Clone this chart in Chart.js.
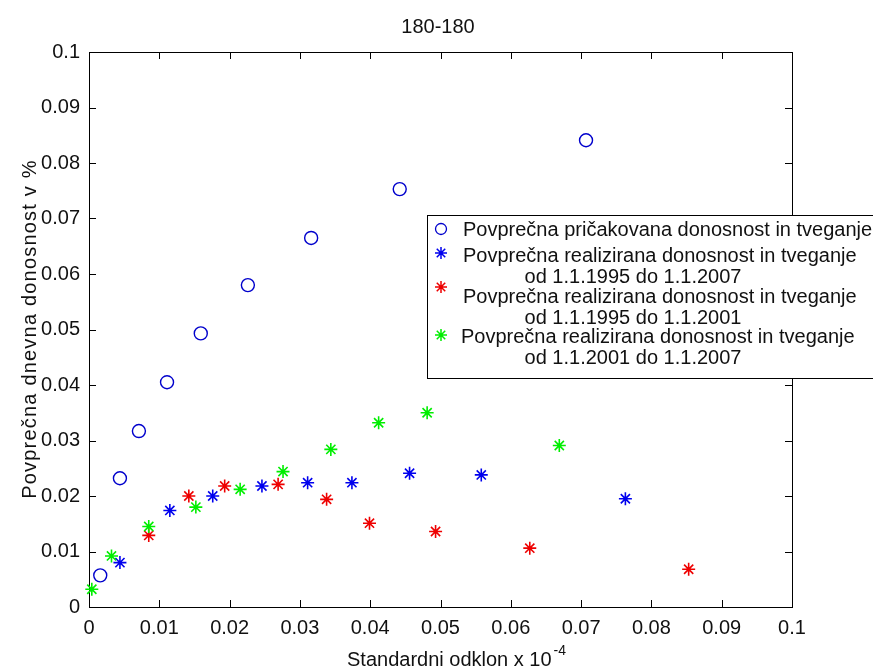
<!DOCTYPE html>
<html>
<head>
<meta charset="utf-8">
<script src="https://cdn.jsdelivr.net/npm/chart.js"></script>
<style>
  html, body { margin: 0; padding: 0; background: #fff; }
  #wrap { width: 873px; height: 669px; position: relative; }
</style>
</head>
<body>
<div id="wrap"><canvas id="c" width="873" height="669"></canvas></div>
<script>
// --- DATA ---
const titleText = '180-180';
const xTitle = 'Standardni odklon x 10';
const xTitleExp = '-4';
const yTitle = 'Povprečna dnevna donosnost v %';

const seriesNames = [
    'Povprečna pričakovana donosnost in tveganje',
    'Povprečna realizirana donosnost in tveganje',
    'Povprečna realizirana donosnost in tveganje',
    'Povprečna realizirana donosnost in tveganje',
];
const seriesPeriods = ['', 'od 1.1.1995 do 1.1.2007', 'od 1.1.1995 do 1.1.2001', 'od 1.1.2001 do 1.1.2007'];

// expected return vs risk (circles)
const expectedX = [0.0016, 0.0044, 0.0071, 0.0111, 0.0159, 0.0226, 0.0316, 0.0442, 0.0707];
const expectedY = [0.0057, 0.0232, 0.0317, 0.0405, 0.0493, 0.0580, 0.0665, 0.0753, 0.0841];

// realized 1995-2007 (blue stars)
const real9507X = [0.0044, 0.0115, 0.0176, 0.0246, 0.0311, 0.0374, 0.0456, 0.0558, 0.0763];
const real9507Y = [0.0080, 0.0174, 0.0200, 0.0218, 0.0224, 0.0224, 0.0241, 0.0238, 0.0195];

// realized 1995-2001 (red stars)
const real9501X = [0.0085, 0.0142, 0.0193, 0.0269, 0.0338, 0.0399, 0.0493, 0.0627, 0.0853];
const real9501Y = [0.0129, 0.0200, 0.0218, 0.0221, 0.0194, 0.0151, 0.0136, 0.0106, 0.0068];

// realized 2001-2007 (green stars)
const real0107X = [0.0004, 0.0032, 0.0085, 0.0152, 0.0215, 0.0276, 0.0344, 0.0412, 0.0481, 0.0669];
const real0107Y = [0.0032, 0.0092, 0.0145, 0.0180, 0.0212, 0.0244, 0.0284, 0.0332, 0.0350, 0.0291];

const axisMin = 0, axisMax = 0.1, axisStep = 0.01;

// --- HELPERS ---
const FONT = "'Liberation Sans', Arial, sans-serif";
const toPoints = (xs, ys) => xs.map((x, i) => ({ x: x, y: ys[i] }));
const fmt = v => String(+v.toFixed(2));

function drawStar(ctx, x, y, r, color) {
    ctx.save();
    ctx.strokeStyle = color;
    ctx.lineWidth = 1.5;
    ctx.beginPath();
    ctx.moveTo(x - r, y); ctx.lineTo(x + r, y);
    ctx.moveTo(x, y - r); ctx.lineTo(x, y + r);
    const d = r * 0.707;
    ctx.moveTo(x - d, y - d); ctx.lineTo(x + d, y + d);
    ctx.moveTo(x - d, y + d); ctx.lineTo(x + d, y - d);
    ctx.stroke();
    ctx.restore();
}

// box, inward ticks on all four sides, titles and legend
const matlabFrame = {
    id: 'matlabFrame',
    beforeDatasetsDraw(chart) {
        const { ctx, chartArea: a, scales } = chart;
        ctx.save();
        ctx.strokeStyle = '#000';
        ctx.lineWidth = 1;
        ctx.strokeRect(Math.round(a.left) + 0.5, Math.round(a.top) + 0.5,
            Math.round(a.right - a.left), Math.round(a.bottom - a.top));
        const tl = 7;
        ctx.beginPath();
        scales.x.ticks.forEach(t => {
            const px = Math.round(scales.x.getPixelForValue(t.value)) + 0.5;
            ctx.moveTo(px, a.bottom); ctx.lineTo(px, a.bottom - tl);
            ctx.moveTo(px, a.top); ctx.lineTo(px, a.top + tl);
        });
        scales.y.ticks.forEach(t => {
            const py = Math.round(scales.y.getPixelForValue(t.value)) + 0.5;
            ctx.moveTo(a.left, py); ctx.lineTo(a.left + tl, py);
            ctx.moveTo(a.right, py); ctx.lineTo(a.right - tl, py);
        });
        ctx.stroke();
        ctx.restore();
    },
    afterDraw(chart) {
        const { ctx, chartArea: a } = chart;
        ctx.save();
        ctx.fillStyle = '#111';
        ctx.font = '20px ' + FONT;

        // title
        ctx.textAlign = 'center';
        ctx.textBaseline = 'middle';
        ctx.fillText(titleText, 438, 27);

        // x title with exponent
        ctx.textAlign = 'left';
        ctx.textBaseline = 'alphabetic';
        ctx.fillText(xTitle, 347, 666);
        const w = ctx.measureText(xTitle).width;
        ctx.font = '14px ' + FONT;
        ctx.fillText(xTitleExp, 347 + w + 2, 655);

        // y title
        ctx.font = '20px ' + FONT;
        ctx.letterSpacing = '1.2px';
        ctx.translate(30, 329);
        ctx.rotate(-Math.PI / 2);
        ctx.textAlign = 'center';
        ctx.textBaseline = 'middle';
        ctx.fillText(yTitle, 0, 0);
        ctx.restore();

        // legend
        ctx.save();
        const box = { l: 427.5, t: 215.5, r: 880, b: 378.5 };
        ctx.fillStyle = '#fff';
        ctx.fillRect(box.l, box.t, box.r - box.l, box.b - box.t);
        ctx.strokeStyle = '#000';
        ctx.lineWidth = 1;
        ctx.strokeRect(box.l, box.t, box.r - box.l, box.b - box.t);

        const colors = chart.data.datasets.map(d => d.borderColor);
        const markerY = [229, 253, 287, 335];
        const lineY = [[230], [256, 277], [297, 318], [337, 358]];
        ctx.font = '20px ' + FONT;
        ctx.fillStyle = '#111';
        ctx.textBaseline = 'middle';
        seriesNames.forEach((name, i) => {
            if (i === 0) {
                ctx.beginPath();
                ctx.strokeStyle = colors[0];
                ctx.lineWidth = 1.3;
                ctx.arc(441, markerY[i], 5.5, 0, Math.PI * 2);
                ctx.stroke();
            } else {
                drawStar(ctx, 441, markerY[i], 6, colors[i]);
            }
            ctx.textAlign = 'left';
            ctx.fillText(name, i === 3 ? 461 : 463, lineY[i][0]);
            if (seriesPeriods[i]) {
                ctx.textAlign = 'center';
                ctx.fillText(seriesPeriods[i], 633, lineY[i][1]);
            }
        });
        ctx.restore();
    }
};

const ctx = document.getElementById('c').getContext('2d');
new Chart(ctx, {
    type: 'scatter',
    data: {
        datasets: [
            {
                data: toPoints(expectedX, expectedY),
                pointStyle: 'circle', pointRadius: 6.5, pointHoverRadius: 6.5,
                borderColor: '#0000cc', backgroundColor: 'rgba(0,0,0,0)', borderWidth: 1.4,
                order: 3, clip: false,
            },
            {
                data: toPoints(real9507X, real9507Y),
                pointStyle: 'star', pointRadius: 6.5, pointHoverRadius: 6.5,
                borderColor: '#0000ee', backgroundColor: '#0000ee', borderWidth: 1.6,
                order: 2, clip: false,
            },
            {
                data: toPoints(real9501X, real9501Y),
                pointStyle: 'star', pointRadius: 6.5, pointHoverRadius: 6.5,
                borderColor: '#ee0000', backgroundColor: '#ee0000', borderWidth: 1.6,
                order: 1, clip: false,
            },
            {
                data: toPoints(real0107X, real0107Y),
                pointStyle: 'star', pointRadius: 6.5, pointHoverRadius: 6.5,
                borderColor: '#00ee00', backgroundColor: '#00ee00', borderWidth: 1.6,
                order: 0, clip: false,
            },
        ]
    },
    options: {
        responsive: false,
        animation: false,
        layout: { padding: { top: 52, right: 81, bottom: 0, left: 0 } },
        plugins: { legend: { display: false }, tooltip: { enabled: false }, title: { display: false } },
        scales: {
            x: {
                type: 'linear', min: axisMin, max: axisMax,
                grid: { display: false, drawTicks: false },
                border: { display: false },
                ticks: {
                    stepSize: axisStep, autoSkip: false, maxRotation: 0, padding: 9,
                    color: '#111', font: { family: FONT, size: 20 }, callback: fmt,
                },
                afterFit: s => { s.height = 62; },
            },
            y: {
                type: 'linear', min: axisMin, max: axisMax,
                grid: { display: false, drawTicks: false },
                border: { display: false },
                ticks: {
                    stepSize: axisStep, autoSkip: false, padding: 9,
                    color: '#111', font: { family: FONT, size: 20 }, callback: fmt,
                },
                afterFit: s => { s.width = 89; },
            }
        }
    },
    plugins: [matlabFrame]
});
</script>
</body>
</html>
